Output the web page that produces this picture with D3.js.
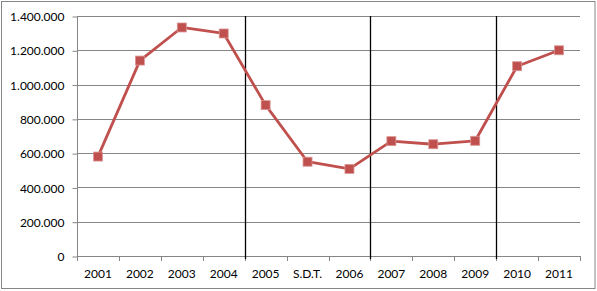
<!DOCTYPE html>
<html>
<head>
<meta charset="utf-8">
<script src="https://cdn.jsdelivr.net/npm/d3@7"></script>
<style>
  body { margin: 0; background: #fff; }
  text { font-family: Lato, "Open Sans", sans-serif; font-size: 12px; fill: #000; }
</style>
</head>
<body>
<svg id="chart" width="597" height="291"></svg>
<script>
// chart data
const categories = ["2001", "2002", "2003", "2004", "2005", "S.D.T.", "2006", "2007", "2008", "2009", "2010", "2011"];
const values = [580000, 1140000, 1333000, 1298000, 880000, 550000, 508000, 670000, 652000, 672000, 1107000, 1200000];
const yTicks = [0, 200000, 400000, 600000, 800000, 1000000, 1200000, 1400000];
// separators drawn after these categories
const dividersAfter = ["2004", "2006", "2009"];

const svg = d3.select("#chart");
const margin = { left: 77, right: 17, top: 16, bottom: 35 };
const width = 597, height = 291;

// outer border
svg.append("rect")
    .attr("x", 1.5).attr("y", 1.5)
    .attr("width", width - 3.5).attr("height", height - 4)
    .attr("fill", "none")
    .attr("stroke", "#868686");

const x = d3.scaleBand()
    .domain(categories)
    .range([margin.left, width - margin.right]);

const y = d3.scaleLinear()
    .domain([0, 1400000])
    .range([height - margin.bottom, margin.top]);

const fmt = d => d3.format(",")(d).replace(/,/g, ".");

// gridlines
svg.append("g")
    .selectAll("line")
    .data(yTicks.slice(1))
    .enter().append("line")
    .attr("x1", margin.left).attr("x2", width - margin.right)
    .attr("y1", d => Math.round(y(d)) + 0.5).attr("y2", d => Math.round(y(d)) + 0.5)
    .attr("stroke", "#868686");

// y axis
const yAxis = svg.append("g")
    .attr("transform", `translate(${margin.left + 0.5},0.5)`)
    .call(d3.axisLeft(y).tickValues(yTicks).tickFormat(fmt).tickSize(5).tickPadding(8));
yAxis.selectAll("path, line").attr("stroke", "#868686");
yAxis.select(".domain").attr("d", `M0,${y(1400000)}V${y(0)}`);
yAxis.selectAll("text").attr("font-size", 12).attr("dy", "0.35em");

// x axis line and ticks at category boundaries
const xg = svg.append("g");
xg.append("line")
    .attr("x1", margin.left).attr("x2", width - margin.right)
    .attr("y1", Math.round(y(0)) + 0.5).attr("y2", Math.round(y(0)) + 0.5)
    .attr("stroke", "#868686");
const bounds = categories.map(c => x(c)).concat([x(categories[categories.length - 1]) + x.bandwidth()]);
xg.selectAll("line.tick")
    .data(bounds)
    .enter().append("line")
    .attr("class", "tick")
    .attr("x1", d => Math.round(d) + 0.5).attr("x2", d => Math.round(d) + 0.5)
    .attr("y1", y(0)).attr("y2", y(0) + 5)
    .attr("stroke", "#868686");
xg.selectAll("text")
    .data(categories)
    .enter().append("text")
    .attr("x", d => x(d) + x.bandwidth() / 2)
    .attr("y", y(0) + 22)
    .attr("text-anchor", "middle")
    .text(d => d);

// black separator lines
svg.append("g")
    .selectAll("line")
    .data(dividersAfter)
    .enter().append("line")
    .attr("x1", d => Math.round(x(d) + x.bandwidth()) + 0.5)
    .attr("x2", d => Math.round(x(d) + x.bandwidth()) + 0.5)
    .attr("y1", y(1400000)).attr("y2", y(0) + 3)
    .attr("stroke", "#000")
    .attr("stroke-width", 1.3);

// series line
const line = d3.line()
    .x((d, i) => x(categories[i]) + x.bandwidth() / 2)
    .y(d => y(d));

svg.append("path")
    .datum(values)
    .attr("d", line)
    .attr("fill", "none")
    .attr("stroke", "#C0504D")
    .attr("stroke-width", 2.8)
    .attr("stroke-linejoin", "round");

// square markers
svg.append("g")
    .selectAll("rect")
    .data(values)
    .enter().append("rect")
    .attr("x", (d, i) => x(categories[i]) + x.bandwidth() / 2 - 4.5)
    .attr("y", d => y(d) - 4.5)
    .attr("width", 9).attr("height", 9)
    .attr("fill", "#C0504D")
    .attr("stroke", "#D99795")
    .attr("stroke-width", 0.8);
</script>
</body>
</html>
